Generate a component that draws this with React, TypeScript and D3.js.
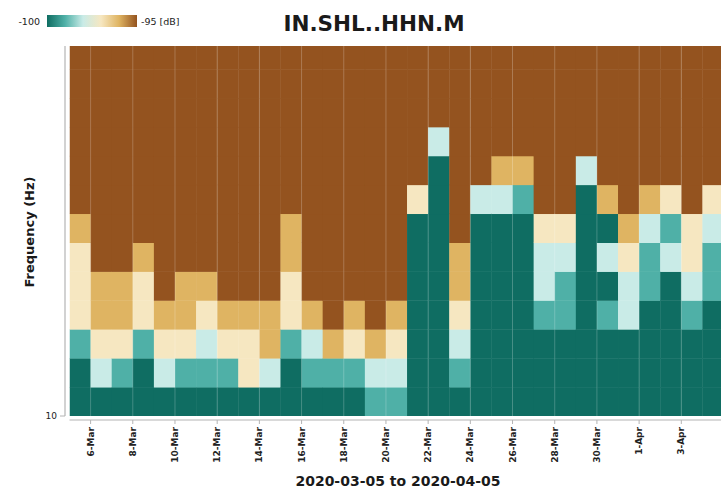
import React from "react";
import * as d3 from "d3";

// ---- data ----
const title = "IN.SHL..HHN.M";
const startDate = "2020-03-05";
const endDate = "2020-04-05";
// frequency bin lower edges (Hz), log spaced
const freqEdges = [10, 11.22, 12.59, 14.13, 15.85, 17.78, 19.95, 22.39, 25.12, 28.18, 31.62, 35.48, 39.81, 44.67];
const freqTop = 43.65;
const yTicks = [10];
const tickDates = [
  "2020-03-06", "2020-03-08", "2020-03-10", "2020-03-12", "2020-03-14", "2020-03-16",
  "2020-03-18", "2020-03-20", "2020-03-22", "2020-03-24", "2020-03-26", "2020-03-28",
  "2020-03-30", "2020-04-01", "2020-04-03",
];
// daily PSD level (dB), per day, frequency bins from lowest upward
const powerDb: number[][] = [
  [-100, -100, -99, -97, -97, -97, -96, -95, -95, -95, -95, -95, -95],
  [-100, -98, -97, -96, -96, -95, -95, -95, -95, -95, -95, -95, -95],
  [-100, -99, -97, -96, -96, -95, -95, -95, -95, -95, -95, -95, -95],
  [-100, -100, -99, -97, -97, -96, -95, -95, -95, -95, -95, -95, -95],
  [-100, -98, -97, -96, -95, -95, -95, -95, -95, -95, -95, -95, -95],
  [-100, -99, -97, -96, -96, -95, -95, -95, -95, -95, -95, -95, -95],
  [-100, -99, -98, -97, -96, -95, -95, -95, -95, -95, -95, -95, -95],
  [-100, -99, -97, -96, -95, -95, -95, -95, -95, -95, -95, -95, -95],
  [-100, -97, -97, -96, -95, -95, -95, -95, -95, -95, -95, -95, -95],
  [-100, -98, -96, -96, -95, -95, -95, -95, -95, -95, -95, -95, -95],
  [-100, -100, -99, -97, -97, -96, -96, -95, -95, -95, -95, -95, -95],
  [-100, -99, -98, -96, -95, -95, -95, -95, -95, -95, -95, -95, -95],
  [-100, -99, -96, -95, -95, -95, -95, -95, -95, -95, -95, -95, -95],
  [-100, -99, -97, -96, -95, -95, -95, -95, -95, -95, -95, -95, -95],
  [-99, -98, -96, -95, -95, -95, -95, -95, -95, -95, -95, -95, -95],
  [-99, -98, -97, -96, -95, -95, -95, -95, -95, -95, -95, -95, -95],
  [-100, -100, -100, -100, -100, -100, -100, -97, -95, -95, -95, -95, -95],
  [-100, -100, -100, -100, -100, -100, -100, -100, -100, -98, -95, -95, -95],
  [-100, -99, -98, -97, -96, -96, -95, -95, -95, -95, -95, -95, -95],
  [-100, -100, -100, -100, -100, -100, -100, -98, -95, -95, -95, -95, -95],
  [-100, -100, -100, -100, -100, -100, -100, -98, -96, -95, -95, -95, -95],
  [-100, -100, -100, -100, -100, -100, -100, -99, -96, -95, -95, -95, -95],
  [-100, -100, -100, -99, -98, -98, -97, -95, -95, -95, -95, -95, -95],
  [-100, -100, -100, -99, -99, -98, -97, -95, -95, -95, -95, -95, -95],
  [-100, -100, -100, -100, -100, -100, -100, -100, -98, -95, -95, -95, -95],
  [-100, -100, -100, -99, -100, -98, -100, -96, -95, -95, -95, -95, -95],
  [-100, -100, -100, -98, -98, -97, -96, -95, -95, -95, -95, -95, -95],
  [-100, -100, -100, -100, -99, -99, -98, -96, -95, -95, -95, -95, -95],
  [-100, -100, -100, -100, -100, -98, -99, -97, -95, -95, -95, -95, -95],
  [-100, -100, -100, -99, -98, -97, -97, -95, -95, -95, -95, -95, -95],
  [-100, -100, -100, -100, -99, -99, -98, -97, -95, -95, -95, -95, -95],
];
const dbLevels = [-100, -99, -98, -97, -96, -95];
const palette = ["#0f6d62", "#4fb0a7", "#c9ebe7", "#f6e7c1", "#dfb462", "#94531f"];

const W = 721;
const H = 491;
const font = "DejaVu Sans, sans-serif";

export default function App() {
  const left = 69.5;
  const right = 723.5;
  const top = 46;
  const bottom = 416;
  const parse = d3.utcParse("%Y-%m-%d");
  const x = d3.scaleUtc().domain([parse(startDate)!, parse(endDate)!]).range([left, right]);
  const y = d3.scaleLog().domain([10, freqTop]).range([bottom, top]);
  const color = d3.scaleOrdinal<number, string>().domain(dbLevels).range(palette);
  const fmt = d3.utcFormat("%-d-%b");
  const start = parse(startDate)!;

  const cells: React.ReactNode[] = [];
  powerDb.forEach((col, i) => {
    const d0 = d3.utcDay.offset(start, i);
    const d1 = d3.utcDay.offset(start, i + 1);
    const x0 = x(d0);
    const x1 = x(d1);
    col.forEach((v, j) => {
      const f0 = freqEdges[j];
      const f1 = Math.min(freqEdges[j + 1], freqTop);
      const y0 = y(f0);
      const y1 = y(f1);
      cells.push(
        <rect key={`${i}-${j}`} x={x0} y={y1} width={x1 - x0 + 0.4} height={y0 - y1 + 0.4} fill={color(v)} />
      );
    });
  });

  const ticks = tickDates.map((s) => parse(s)!);
  const spine = "#b4b4b4";

  return (
    <svg width={W} height={H} style={{ position: "absolute", left: 0, top: 0, background: "#fff" }} fontFamily={font}>
      <defs>
        <linearGradient id="cbar" x1="0" x2="1" y1="0" y2="0">
          {palette.map((c, i) => (
            <stop key={i} offset={`${(i / (palette.length - 1)) * 100}%`} stopColor={c} />
          ))}
        </linearGradient>
        <clipPath id="plot">
          <rect x={left} y={top} width={right - left} height={bottom - top} />
        </clipPath>
      </defs>

      {/* colorbar */}
      <rect x={47} y={15} width={90} height={12} fill="url(#cbar)" />
      <text x={40} y={25} fontSize={9.5} textAnchor="end" fill="#222">-100</text>
      <text x={141} y={25} fontSize={9.5} fill="#222">-95 [dB]</text>

      {/* title */}
      <text x={374} y={31} fontSize={21.5} fontWeight="bold" textAnchor="middle" fill="#1a1a1a">{title}</text>

      {/* heatmap */}
      <g clipPath="url(#plot)">{cells}</g>

      {/* grid */}
      {ticks.map((t, i) => (
        <line key={i} x1={x(t)} x2={x(t)} y1={top} y2={bottom} stroke="#ffffff" strokeOpacity={0.22} strokeWidth={1} />
      ))}

      {/* spines */}
      <line x1={65} x2={65} y1={top} y2={bottom} stroke={spine} strokeWidth={1.2} />
      <line x1={left} x2={W} y1={420} y2={420} stroke={spine} strokeWidth={1.2} />

      {/* y ticks */}
      {yTicks.map((v) => (
        <g key={v}>
          <line x1={60} x2={65} y1={y(v)} y2={y(v)} stroke={spine} />
          <text x={57} y={y(v)} dy="0.35em" fontSize={9} textAnchor="end" fill="#222">{v}</text>
        </g>
      ))}

      {/* x ticks */}
      {ticks.map((t, i) => (
        <g key={i} transform={`translate(${x(t)},420)`}>
          <line y1={0} y2={4} stroke={spine} />
          <text transform="translate(3,7) rotate(-90)" textAnchor="end" fontSize={9} fontWeight="bold" fill="#222">
            {fmt(t)}
          </text>
        </g>
      ))}

      {/* axis labels */}
      <text transform={`translate(34,232) rotate(-90)`} textAnchor="middle" fontSize={13} fontWeight="bold" fill="#1a1a1a">
        Frequency (Hz)
      </text>
      <text x={398} y={486} textAnchor="middle" fontSize={14} fontWeight="bold" fill="#1a1a1a">
        {`${startDate} to ${endDate}`}
      </text>
    </svg>
  );
}
